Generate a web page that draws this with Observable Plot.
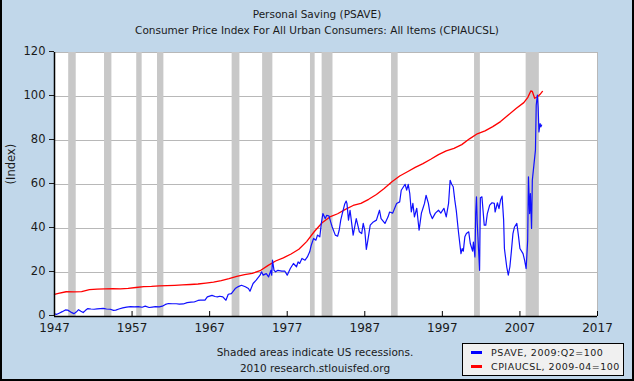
<!DOCTYPE html>
<html>
<head>
<meta charset="utf-8">
<script src="https://cdn.jsdelivr.net/npm/d3@7"></script>
<script src="https://cdn.jsdelivr.net/npm/@observablehq/plot@0.6"></script>
<style>
  html, body { margin: 0; padding: 0; }
  #wrap { position: relative; width: 634px; height: 381px; background: #c1d7ea; overflow: hidden;
          font-family: "DejaVu Sans", sans-serif; color: #1a1a1a; }
  #chart { position: absolute; left: 0; top: 0; }
  .title { position: absolute; left: 0; width: 634px; text-align: center; font-size: 10.5px; }
  .note { position: absolute; left: 160px; width: 310px; text-align: center; font-size: 10.5px; }
  #legend { position: absolute; left: 462px; top: 343px; width: 162px; height: 33px; box-sizing: border-box;
            border: 1px solid #000; background: #f0f0f0; font-size: 9.5px; letter-spacing: 0.5px; }
  .item { position: absolute; left: 8px; height: 12px; line-height: 12px; white-space: nowrap; }
  .sw { display: inline-block; width: 11px; height: 3px; vertical-align: middle; margin-right: 9px; position: relative; top: -1px; }
  .bl { position: absolute; background: #000; }
</style>
</head>
<body>
<div id="wrap">
  <div id="chart"></div>
  <div class="title" style="top:8px">Personal Saving (PSAVE)</div>
  <div class="title" style="top:24px">Consumer Price Index For All Urban Consumers: All Items (CPIAUCSL)</div>
  <div class="note" style="top:346px">Shaded areas indicate US recessions.</div>
  <div class="note" style="top:362px">2010 research.stlouisfed.org</div>
  <div id="legend">
    <div class="item" style="top:3px"><span class="sw" style="background:#0000ff"></span>PSAVE, 2009:Q2=100</div>
    <div class="item" style="top:17px"><span class="sw" style="background:#ff0000"></span>CPIAUCSL, 2009-04=100</div>
  </div>
  <div class="bl" style="left:0;top:0;width:2px;height:381px"></div>
  <div class="bl" style="right:0;top:0;width:2px;height:381px"></div>
  <div class="bl" style="left:0;bottom:0;width:634px;height:2px"></div>
</div>
<script>
// ---- data ----
const xTicks = [1947, 1957, 1967, 1977, 1987, 1997, 2007, 2017];
const yTicks = [0, 20, 40, 60, 80, 100, 120];

const recessionStart = [1948.83, 1953.45, 1957.6, 1960.28, 1969.9, 1973.83, 1980.0, 1981.5, 1990.45, 2001.15, 2007.8];
const recessionEnd   = [1949.8, 1954.4, 1958.3, 1961.1, 1970.9, 1975.15, 1980.6, 1982.9, 1991.3, 2001.9, 2009.5];

const cpiYears = [1947.0, 1947.5, 1948.5, 1949.5, 1950.5, 1951.5, 1952.5, 1953.5, 1954.5, 1955.5, 1956.5,
  1957.5, 1958.5, 1959.5, 1960.5, 1961.5, 1962.5, 1963.5, 1964.5, 1965.5, 1966.5, 1967.5, 1968.5, 1969.5,
  1970.5, 1971.5, 1972.5, 1973.5, 1974.5, 1975.5, 1976.5, 1977.5, 1978.5, 1979.5, 1980.5, 1981.5, 1982.5,
  1983.5, 1984.5, 1985.5, 1986.5, 1987.5, 1988.5, 1989.5, 1990.5, 1991.5, 1992.5, 1993.5, 1994.5, 1995.5,
  1996.5, 1997.5, 1998.5, 1999.5, 2000.5, 2001.5, 2002.5, 2003.5, 2004.5, 2005.5, 2006.5, 2007.5, 2008.0,
  2008.4, 2008.6, 2008.9, 2009.3, 2009.6, 2009.9];
const cpiValues = [10.1, 10.5, 11.25, 11.16, 11.3, 12.19, 12.43, 12.52, 12.61, 12.57, 12.76,
  13.18, 13.55, 13.65, 13.88, 14.02, 14.16, 14.35, 14.54, 14.77, 15.19, 15.66, 16.32, 17.21,
  18.2, 18.99, 19.6, 20.82, 23.12, 25.23, 26.68, 28.42, 30.58, 34.05, 38.64, 42.63, 45.25,
  46.71, 48.72, 50.46, 51.4, 53.27, 55.48, 58.15, 61.29, 63.87, 65.79, 67.76, 69.5, 71.47,
  73.58, 75.27, 76.44, 78.13, 80.75, 83.05, 84.37, 86.29, 88.59, 91.59, 94.54, 97.21, 99.5,
  102.5, 102.3, 99.2, 100.0, 101.0, 102.3];

const psaveYears = [1947.0, 1947.3, 1947.6, 1948.0, 1948.4, 1948.7, 1949.1, 1949.5, 1949.8, 1950.1, 1950.4,
  1950.7, 1951.0, 1951.3, 1951.7, 1952.1, 1952.5, 1952.9, 1953.3, 1953.7, 1954.2, 1954.6, 1954.9, 1955.3,
  1955.8, 1956.3, 1956.8, 1957.3, 1957.8, 1958.3, 1958.7, 1959.2, 1959.6, 1960.0, 1960.5, 1960.9, 1961.3,
  1961.7, 1962.2, 1962.7, 1963.1, 1963.6, 1964.1, 1964.6, 1965.0, 1965.5, 1965.8, 1966.4, 1966.7, 1967.3,
  1967.7, 1968.0, 1968.3, 1968.7, 1969.1, 1969.4, 1969.8, 1970.3, 1970.7, 1971.1, 1971.6, 1972.0, 1972.2,
  1972.6, 1973.0, 1973.5, 1973.7, 1973.9, 1974.3, 1974.6, 1974.9, 1975.0, 1975.1, 1975.3, 1975.5, 1975.8,
  1976.3, 1976.7, 1977.0, 1977.4, 1977.8, 1978.2, 1978.4, 1978.6, 1978.9, 1979.3, 1979.6, 1979.9, 1980.1,
  1980.4, 1980.7, 1980.9, 1981.2, 1981.4, 1981.6, 1981.9, 1982.1, 1982.4, 1982.6, 1982.8, 1983.2, 1983.5,
  1983.7, 1983.9, 1984.1, 1984.4, 1984.6, 1984.7, 1984.9, 1985.1, 1985.5, 1985.9, 1986.1, 1986.3, 1986.6,
  1986.8, 1987.0, 1987.2, 1987.4, 1987.7, 1988.1, 1988.5, 1988.9, 1989.1, 1989.6, 1990.0, 1990.2, 1990.6,
  1991.1, 1991.5, 1991.7, 1992.2, 1992.4, 1992.6, 1992.8, 1993.0, 1993.2, 1993.4, 1993.7, 1994.0, 1994.3,
  1994.5, 1994.7, 1994.9, 1995.2, 1995.4, 1995.7, 1996.1, 1996.5, 1996.8, 1997.2, 1997.5, 1997.8, 1998.0,
  1998.2, 1998.4, 1998.6, 1998.8, 1999.0, 1999.1, 1999.4, 1999.55, 1999.7, 1999.9, 2000.1, 2000.4, 2000.6,
  2000.9, 2001.0, 2001.2, 2001.3, 2001.4, 2001.5, 2001.8, 2001.9, 2002.1, 2002.4, 2002.6, 2002.8, 2003.1,
  2003.4, 2003.7, 2003.8, 2004.1, 2004.3, 2004.5, 2004.7, 2004.9, 2005.0, 2005.3, 2005.5, 2005.7, 2005.9,
  2006.1, 2006.3, 2006.6, 2006.8, 2007.0, 2007.4, 2007.6, 2007.8, 2008.0, 2008.1, 2008.25, 2008.35, 2008.5,
  2008.6, 2008.8, 2009.0, 2009.1, 2009.25, 2009.35, 2009.45, 2009.6, 2009.7, 2009.8];
const psaveValues = [1.2, 1.0, 1.5, 2.2, 3.0, 2.9, 2.0, 1.3, 2.0, 3.1, 2.4,
  1.8, 2.8, 3.6, 3.4, 3.3, 3.5, 3.6, 3.7, 3.4, 3.3, 2.8, 2.9, 3.4,
  3.9, 4.3, 4.5, 4.4, 4.5, 4.2, 4.7, 4.1, 4.3, 4.5, 4.4, 4.7, 5.5,
  5.9, 5.8, 5.8, 5.6, 5.7, 6.3, 6.5, 6.6, 7.3, 7.4, 7.4, 8.9, 9.6,
  9.1, 8.9, 9.2, 8.9, 7.4, 10.1, 10.4, 12.7, 13.6, 14.2, 13.5, 12.7, 11.5,
  15.0, 16.5, 18.8, 20.3, 18.8, 19.5, 18.0, 21.0, 18.8, 25.6, 21.0, 20.3, 21.0,
  20.6, 20.6, 18.8, 21.8, 24.1, 22.6, 24.8, 24.1, 26.4, 25.6, 27.1, 29.4, 32.4,
  35.5, 34.7, 37.0, 36.2, 42.3, 46.8, 44.5, 46.0, 45.6, 43.0, 40.7, 37.0, 36.5,
  39.2, 43.8, 46.8, 51.0, 52.5, 51.4, 43.8, 48.3, 37.0, 44.5, 41.5, 38.5, 37.7,
  42.3, 39.2, 30.5, 34.7, 41.5, 43.0, 43.8, 48.3, 44.5, 42.3, 45.3, 47.5, 47.0,
  51.4, 52.1, 57.4, 60.1, 57.4, 60.1, 55.9, 47.5, 51.4, 45.3, 49.2, 39.2, 47.0,
  49.2, 51.4, 55.1, 51.4, 47.0, 44.5, 47.0, 48.3, 47.0, 49.2, 45.3, 51.4, 61.9,
  60.1, 59.0, 53.0, 48.0, 41.0, 37.7, 28.6, 30.9, 29.7, 36.2, 37.7, 38.5, 33.2,
  29.7, 33.8, 27.1, 46.8, 54.4, 42.3, 21.0, 54.0, 54.4, 41.5, 41.5, 46.8, 50.6,
  51.7, 51.4, 47.5, 51.7, 49.0, 52.9, 54.7, 43.8, 30.9, 22.5, 18.8, 22.5, 29.7,
  37.7, 40.7, 42.3, 37.0, 30.9, 28.6, 25.6, 21.8, 34.7, 63.5, 46.8, 55.9, 40.0,
  62.0, 68.8, 75.6, 96.0, 100.6, 95.0, 83.9, 87.7, 86.2, 87.0];

// ---- tables built from the arrays ----
const recessions = recessionStart.map((s, i) => ({start: s, end: recessionEnd[i]}));
const cpi = cpiYears.map((t, i) => ({t, v: cpiValues[i]}));
const psave = psaveYears.map((t, i) => ({t, v: psaveValues[i]}));

const chart = Plot.plot({
  width: 634,
  height: 381,
  marginLeft: 54,
  marginRight: 37,
  marginTop: 52,
  marginBottom: 65,
  style: {background: "transparent", fontFamily: "DejaVu Sans", fontSize: "11px", color: "#1a1a1a", overflow: "visible"},
  x: {domain: [1947, 2017], label: null},
  y: {domain: [0, 120], label: null},
  marks: [
    Plot.frame({fill: "white", stroke: "none"}),
    Plot.gridY(yTicks, {stroke: "#b8b8b8", strokeOpacity: 1}),
    Plot.rectX(recessions, {x1: "start", x2: "end", fill: "#c8c8c8"}),
    Plot.ruleX([2017], {stroke: "#b8b8b8"}),
    Plot.line(cpi, {x: "t", y: "v", stroke: "#ff0000", strokeWidth: 1.3}),
    Plot.line(psave, {x: "t", y: "v", stroke: "#1010ff", strokeWidth: 1.2}),
    Plot.ruleX(xTicks, {stroke: "#000", insetTop: 259}),
    Plot.axisX(xTicks, {tickSize: 0, tickPadding: 7, tickFormat: d => String(d), fontSize: 12, label: null}),
    Plot.axisY(yTicks, {tickSize: 5, tickPadding: 4, fontSize: 11.5, dy: -1, label: null}),
    Plot.ruleY([0], {stroke: "#000", strokeWidth: 1.5}),
    Plot.ruleX([1947], {stroke: "#000", strokeWidth: 1.5}),
    Plot.text(["(Index)"], {frameAnchor: "left", dx: -43, rotate: -90, fontSize: 11.5})
  ]
});
document.getElementById("chart").appendChild(chart);
</script>
</body>
</html>
